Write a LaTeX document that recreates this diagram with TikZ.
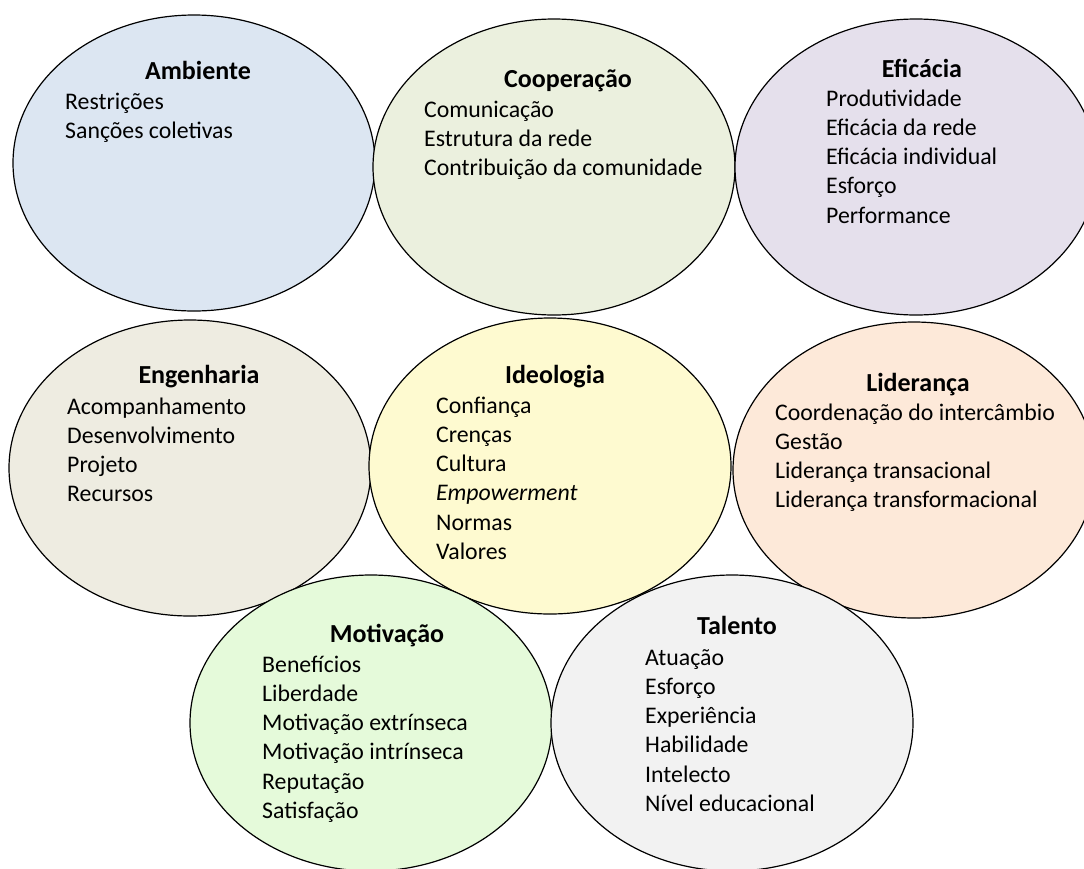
\documentclass[tikz,border=0pt]{standalone}
\usepackage{fontspec}
\setmainfont{Carlito}
\usetikzlibrary{shapes.geometric}

\definecolor{ambfill}{HTML}{DCE6F2}
\definecolor{coopfill}{HTML}{EBF0DE}
\definecolor{efifill}{HTML}{E5E0EC}
\definecolor{engfill}{HTML}{EEECE1}
\definecolor{ideofill}{HTML}{FEFAD0}
\definecolor{lidfill}{HTML}{FDE9D9}
\definecolor{motfill}{HTML}{E5FADA}
\definecolor{talfill}{HTML}{F2F2F2}

\newcommand\itemlist[1]{\begin{tabular}[t]{@{}l@{}}#1\end{tabular}}

\tikzset{
  blob/.style={ellipse, draw=black, line width=1.2pt,
    minimum width=362pt, minimum height=296pt, inner sep=0pt},
  heading/.style={anchor=base, inner sep=0pt,
    font=\fontsize{26}{31}\selectfont\bfseries},
  items/.style={anchor=base west, inner sep=0pt,
    font=\fontsize{23.8}{29.3}\selectfont},
}

\begin{document}
\begin{tikzpicture}[x=1pt, y=-1pt]
  \useasboundingbox (0,0) rectangle (1084,868);

  % ellipses, top row to bottom row
  \node[blob, fill=ambfill]  (amb)  at (194,163) {};
  \node[blob, fill=coopfill] (coop) at (554,167) {};
  \node[blob, fill=efifill]  (efi)  at (916,167) {};
  \node[blob, fill=engfill]  (eng)  at (190,468) {};
  \node[blob, fill=ideofill] (ideo) at (550,466) {};
  \node[blob, fill=lidfill]  (lid)  at (914,470) {};
  \node[blob, fill=motfill]  (mot)  at (371,723) {};
  \node[blob, fill=talfill]  (tal)  at (732,723) {};

  % Ambiente
  \node[heading] (amb-t) at (198,79) {Ambiente};
  \node[items]   (amb-l) at (65,109) {\itemlist{Restrições\\Sanções coletivas}};

  % Cooperação
  \node[heading] (coop-t) at (568,87) {Cooperação};
  \node[items]   (coop-l) at (424,117) {\itemlist{Comunicação\\Estrutura da rede\\Contribuição da comunidade}};

  % Eficácia
  \node[heading] (efi-t) at (922,77) {Eficácia};
  \node[items]   (efi-l) at (826,106) {\itemlist{Produtividade\\Eficácia da rede\\Eficácia individual\\Esforço\\Performance}};

  % Engenharia
  \node[heading] (eng-t) at (199,383) {Engenharia};
  \node[items]   (eng-l) at (67,414) {\itemlist{Acompanhamento\\Desenvolvimento\\Projeto\\Recursos}};

  % Ideologia
  \node[heading] (ideo-t) at (555,383) {Ideologia};
  \node[items]   (ideo-l) at (436,413) {\itemlist{Confiança\\Crenças\\Cultura\\\textit{Empowerment}\\Normas\\Valores}};

  % Liderança
  \node[heading] (lid-t) at (918,391) {Liderança};
  \node[items]   (lid-l) at (775,420) {\itemlist{Coordenação do intercâmbio\\Gestão\\Liderança transacional\\Liderança transformacional}};

  % Motivação
  \node[heading] (mot-t) at (387,642) {Motivação};
  \node[items]   (mot-l) at (262,672) {\itemlist{Benefícios\\Liberdade\\Motivação extrínseca\\Motivação intrínseca\\Reputação\\Satisfação}};

  % Talento
  \node[heading] (tal-t) at (737,634) {Talento};
  \node[items]   (tal-l) at (645,665) {\itemlist{Atuação\\Esforço\\Experiência\\Habilidade\\Intelecto\\Nível educacional}};
\end{tikzpicture}
\end{document}
